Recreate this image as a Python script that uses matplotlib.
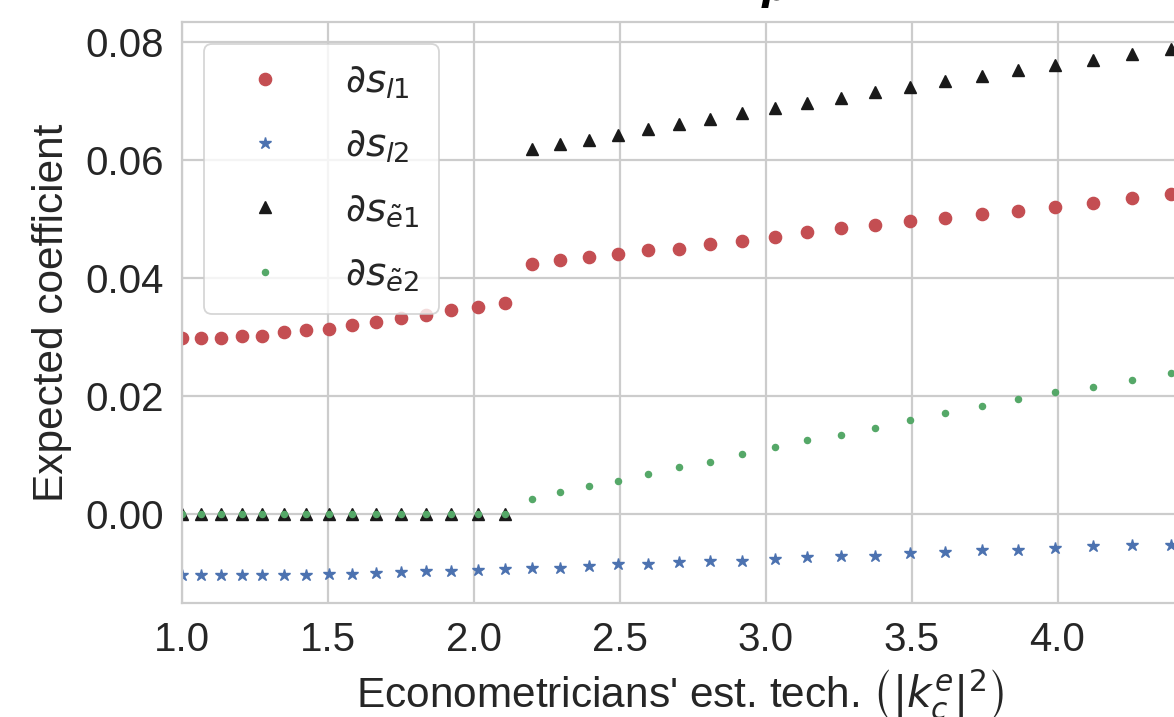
import matplotlib
matplotlib.use("Agg")
import matplotlib.pyplot as plt

# ---- data ----
x_vals = [1.000, 1.065, 1.133, 1.203, 1.274, 1.348, 1.424, 1.502, 1.582, 1.664,
          1.748, 1.834, 1.922, 2.012, 2.105, 2.199, 2.296, 2.394, 2.495, 2.598,
          2.703, 2.810, 2.919, 3.030, 3.143, 3.258, 3.375, 3.495, 3.616, 3.740,
          3.865, 3.993, 4.123, 4.254, 4.388]

s_l1 = [0.0299, 0.0299, 0.0299, 0.0302, 0.0302, 0.0309, 0.0312, 0.0314, 0.0321, 0.0326,
        0.0332, 0.0338, 0.0345, 0.0351, 0.0357, 0.0424, 0.0430, 0.0436, 0.0441, 0.0448,
        0.0450, 0.0457, 0.0463, 0.0469, 0.0478, 0.0484, 0.0490, 0.0496, 0.0502, 0.0508,
        0.0514, 0.0520, 0.0527, 0.0535, 0.0542]

s_l2 = [-0.0104, -0.0104, -0.0104, -0.0103, -0.0103, -0.0103, -0.0103, -0.0102, -0.0102, -0.0100,
        -0.0099, -0.0097, -0.0097, -0.0095, -0.0094, -0.0091, -0.0091, -0.0089, -0.0085, -0.0085,
        -0.0082, -0.0079, -0.0079, -0.0076, -0.0073, -0.0071, -0.0071, -0.0067, -0.0064, -0.0061,
        -0.0061, -0.0058, -0.0055, -0.0052, -0.0052]

s_e1 = [0.0, 0.0, 0.0, 0.0, 0.0, 0.0, 0.0, 0.0, 0.0, 0.0,
        0.0, 0.0, 0.0, 0.0, 0.0, 0.0619, 0.0628, 0.0634, 0.0643, 0.0652,
        0.0661, 0.0670, 0.0679, 0.0688, 0.0697, 0.0706, 0.0715, 0.0724, 0.0734, 0.0742,
        0.0752, 0.0761, 0.0770, 0.0779, 0.0788]

s_e2 = [0.0, 0.0, 0.0, 0.0, 0.0, 0.0, 0.0, 0.0, 0.0, 0.0,
        0.0, 0.0, 0.0, 0.0, 0.0, 0.00254, 0.00377, 0.00468, 0.00558, 0.00677,
        0.0080, 0.00885, 0.0101, 0.01133, 0.01252, 0.01341, 0.0146, 0.01585, 0.01703, 0.01822,
        0.01945, 0.02063, 0.0216, 0.02278, 0.02397]

labels = [r"$\partial s_{l1}$", r"$\partial s_{l2}$",
          r"$\partial s_{\tilde{e}1}$", r"$\partial s_{\tilde{e}2}$"]
x_ticks = [1.0, 1.5, 2.0, 2.5, 3.0, 3.5, 4.0]
y_ticks = [0.00, 0.02, 0.04, 0.06, 0.08]

# ---- style ----
plt.rcParams['font.family'] = ['Liberation Sans', 'DejaVu Sans']
plt.rcParams['mathtext.fontset'] = 'dejavusans'
text_col = '#262626'
grid_col = '#cccccc'

fig = plt.figure(figsize=(11.74, 7.17), dpi=100)
ax = fig.add_axes([182.3 / 1174, 114 / 717, 995.4 / 1174, 581 / 717])

ms = 8.8
ax.plot(x_vals, s_l1, 'o', color='#C44E52', ms=ms, label=labels[0])
ax.plot(x_vals, s_l2, '*', color='#4C72B0', ms=ms, label=labels[1])
ax.plot(x_vals, s_e1, '^', color='#1a1a1a', ms=ms, label=labels[2])
ax.plot(x_vals, s_e2, '.', color='#55A868', ms=ms, label=labels[3])

ax.set_xlim(1.0, 4.412)
ax.set_ylim(-0.0151, 0.0834)
ax.set_xticks(x_ticks)
ax.set_yticks(y_ticks)
ax.set_xticklabels([f"{v:.1f}" for v in x_ticks])
ax.set_yticklabels([f"{v:.2f}" for v in y_ticks])
ax.tick_params(axis='both', length=0, labelsize=29, colors=text_col, pad=13)

ax.grid(True, color=grid_col, linewidth=1.6)
ax.set_axisbelow(True)
for sp in ax.spines.values():
    sp.set_color(grid_col)
    sp.set_linewidth(1.6)

ax.set_ylabel("Expected coefficient", fontsize=30.5, color=text_col)
ax.yaxis.set_label_coords(-0.111, 0.5)
ax.set_xlabel(r"Econometricians' est. tech. $\left(|k_c^e|^2\right)$", fontsize=30.5, color=text_col)
ax.xaxis.set_label_coords(0.5, -0.111)

leg = ax.legend(loc='upper left', bbox_to_anchor=((204 - 182.3) / 995.4, (603 - 44) / 581),
                borderaxespad=0, fontsize=28, numpoints=1, frameon=True, framealpha=0.8,
                handlelength=2.1, handletextpad=1.0, labelspacing=0.72, borderpad=0.52,
                fancybox=True)
leg.get_frame().set_edgecolor(grid_col)
leg.get_frame().set_linewidth(1.3)
for t in leg.get_texts():
    t.set_color(text_col)

# clipped title fragment at the very top
fig.text(775 / 1174, 1.0, "ρ", fontsize=28, fontweight='bold', style='italic',
         family='DejaVu Sans', ha='center', va='baseline', color='black')

fig.savefig("out.png", dpi=100)
